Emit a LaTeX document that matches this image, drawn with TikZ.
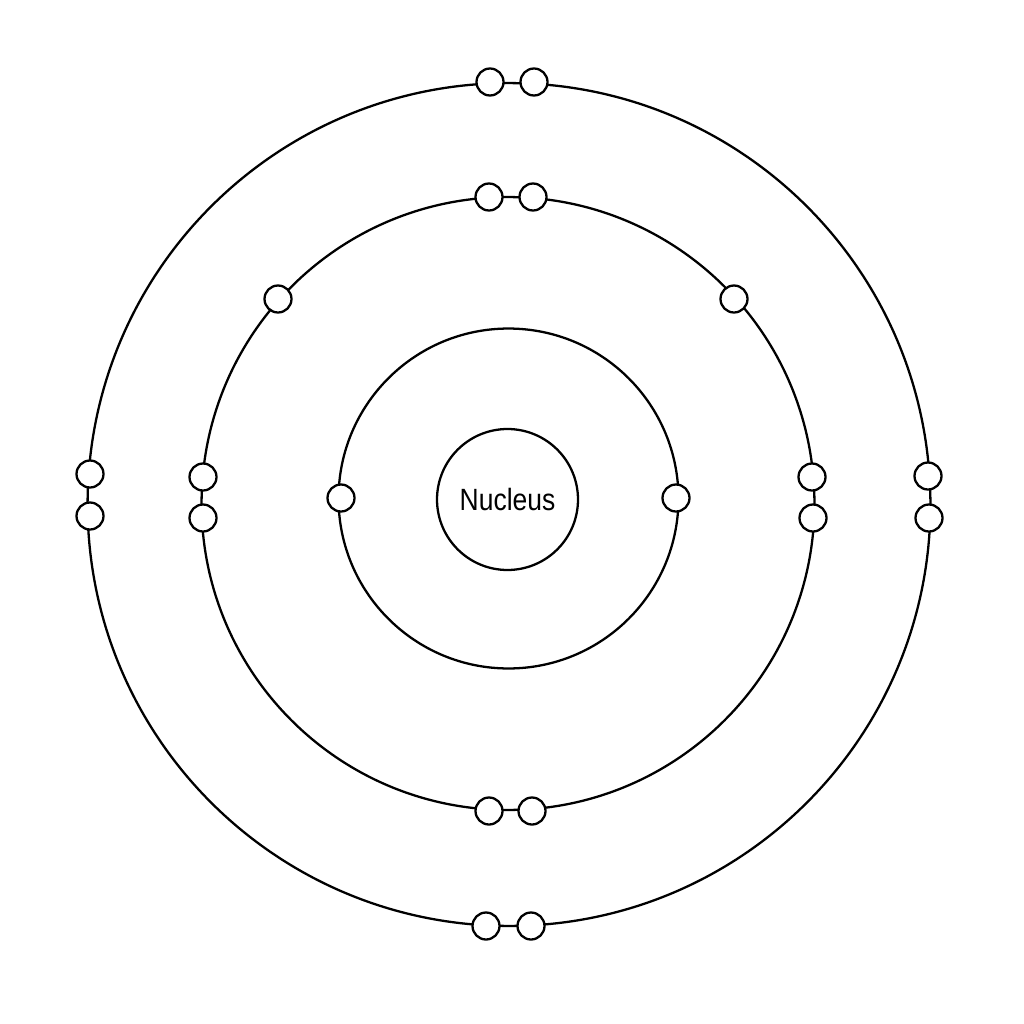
\documentclass[tikz,border=0pt]{standalone}
\usepackage{fontspec}
\newfontfamily\labelfont[FakeStretch=0.86]{Liberation Sans}
\usepackage{tikz}

\tikzset{
	shell/.style={draw, circle, line width=1.3pt, inner sep=0pt},
	electron/.style={draw, circle, fill=white, line width=1.3pt, inner sep=0pt, minimum size=0.54cm},
}

\begin{document}
\begin{tikzpicture}[x=0.02cm, y=-0.02cm]
	\useasboundingbox (0,0) rectangle (1024,1024);
	\node[shell, minimum size=16.86cm] (shell3) at (509,504.5) {};
	\node[shell, minimum size=12.26cm] (shell2) at (508,503.5) {};
	\node[shell, minimum size=6.8cm] (shell1) at (508.5,498.5) {};
	\node[shell, minimum size=2.82cm, font=\labelfont\fontsize{17.5}{20}\selectfont]
		(nucleus) at (507.5,499.5) {Nucleus};
	% first shell
	\foreach \name/\x/\y in {a1/341/498, a2/676/498}
		\node[electron] (\name) at (\x,\y) {};
	% second shell
	\foreach \name/\x/\y in {b1/489/197, b2/533/197, b3/489/811, b4/532/811,
		b5/203/477, b6/203/518, b7/812/477, b8/813/518, b9/278/299, b10/734/299}
		\node[electron] (\name) at (\x,\y) {};
	% third shell
	\foreach \name/\x/\y in {c1/490/82, c2/534/82, c3/486/926, c4/531/926,
		c5/90/474, c6/90/516, c7/928/476, c8/929/518}
		\node[electron] (\name) at (\x,\y) {};
\end{tikzpicture}
\end{document}
